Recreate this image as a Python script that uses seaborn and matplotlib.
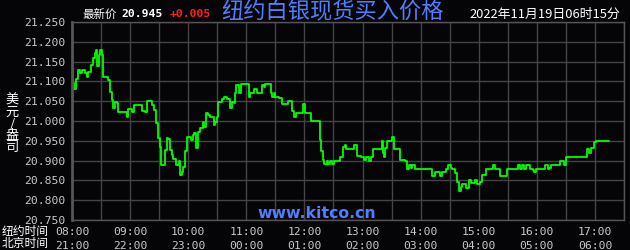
import matplotlib
matplotlib.use("Agg")
import matplotlib.pyplot as plt
import seaborn as sns
import pandas as pd

# minutes after 08:00 New York time
minutes = [0, 1.3, 2.4, 4.1, 6.2, 8.3, 10.3, 13.4, 15.2, 16.9,
           19.3, 21.4, 23.8, 24.8, 26.2, 27.6, 29.0, 30.7, 31.8, 32.4,
           36.5, 37.6, 39.3, 41.1, 42.7, 44.5, 46.2, 47.9, 54.8, 56.6,
           58.2, 61.8, 64.1, 70.3, 72.1, 75.5, 77.9, 82.4, 84.8, 86.9,
           89.3, 91.0, 92.1, 94.4, 96.2, 98.0, 99.6, 101.4, 103.1, 104.8,
           107.6, 110.0, 111.7, 113.5, 115.1, 116.9, 118.7, 121.3, 122.8, 124.9,
           126.2, 128.3, 130.3, 132.4, 135.2, 136.6, 138.3, 140.0, 142.8, 146.2,
           147.9, 149.7, 150.7, 154.9, 157.2, 160.0, 162.7, 164.8, 166.9, 168.6,
           169.7, 172.0, 174.5, 180.0, 182.4, 184.1, 188.3, 191.1, 196.3, 197.9,
           199.7, 204.1, 205.6, 206.9, 208.2, 210.0, 213.4, 216.9, 220.6, 222.7,
           226.2, 227.3, 228.9, 231.7, 236.6, 238.2, 240.3, 244.4, 246.9, 254.8,
           255.8, 256.6, 257.6, 259.3, 260.7, 262.8, 264.5, 266.2, 268.7, 270.3,
           274.4, 277.2, 280.0, 281.4, 283.4, 290.4, 291.7, 293.8, 298.7, 301.3,
           304.1, 306.5, 309.0, 311.1, 317.9, 319.7, 321.4, 322.0, 323.1, 324.8,
           329.0, 330.7, 332.4, 336.5, 338.6, 343.4, 345.5, 347.9, 349.7, 351.4,
           353.8, 370.3, 372.1, 374.5, 377.9, 380.0, 382.4, 385.9, 388.3, 391.0,
           392.8, 395.2, 397.2, 399.6, 401.4, 403.1, 405.5, 406.6, 410.0, 412.5,
           414.1, 416.2, 418.7, 421.4, 423.8, 427.2, 432.4, 434.8, 436.6, 440.0,
           442.1, 446.2, 449.7, 458.3, 460.7, 462.8, 464.5, 466.3, 468.6, 471.0,
           473.1, 475.6, 477.2, 479.0, 485.9, 488.3, 491.1, 492.8, 494.5, 501.4,
           504.1, 506.6, 508.2, 510.0, 529.7, 531.7, 533.5, 535.9, 539.3, 541.0, 554.8]

prices = [21.131, 21.095, 21.080, 21.105, 21.129, 21.120, 21.129, 21.120, 21.110, 21.125,
          21.141, 21.158, 21.171, 21.179, 21.139, 21.167, 21.179, 21.167, 21.125, 21.112,
          21.112, 21.104, 21.074, 21.053, 21.032, 21.049, 21.045, 21.022, 21.022, 21.011,
          21.030, 21.022, 21.040, 21.040, 21.024, 21.022, 21.051, 21.040, 21.028, 20.994,
          20.956, 20.935, 20.889, 20.889, 20.927, 20.958, 20.954, 20.927, 20.914, 20.903,
          20.889, 20.900, 20.864, 20.872, 20.885, 20.923, 20.960, 20.960, 20.952, 20.965,
          20.969, 20.931, 20.973, 20.982, 20.998, 20.984, 21.021, 21.015, 21.009, 20.990,
          20.998, 21.011, 21.049, 21.055, 21.061, 21.055, 21.032, 21.049, 21.046, 21.070,
          21.091, 21.070, 21.093, 21.093, 21.061, 21.070, 21.081, 21.071, 21.091, 21.085,
          21.093, 21.093, 21.070, 21.060, 21.071, 21.061, 21.057, 21.042, 21.042, 21.051,
          21.051, 21.024, 21.011, 21.021, 21.021, 21.042, 21.021, 21.019, 21.001, 21.001,
          20.982, 20.952, 20.923, 20.902, 20.891, 20.900, 20.891, 20.900, 20.891, 20.900,
          20.900, 20.910, 20.935, 20.939, 20.929, 20.929, 20.939, 20.912, 20.910, 20.902,
          20.908, 20.900, 20.908, 20.929, 20.929, 20.950, 20.920, 20.908, 20.931, 20.950,
          20.950, 20.960, 20.929, 20.929, 20.902, 20.900, 20.878, 20.889, 20.881, 20.889,
          20.880, 20.880, 20.861, 20.872, 20.872, 20.861, 20.872, 20.878, 20.889, 20.881,
          20.878, 20.868, 20.847, 20.822, 20.834, 20.841, 20.841, 20.832, 20.851, 20.843,
          20.843, 20.851, 20.841, 20.847, 20.864, 20.878, 20.878, 20.889, 20.878, 20.878,
          20.861, 20.861, 20.878, 20.878, 20.889, 20.878, 20.889, 20.878, 20.889, 20.889,
          20.878, 20.876, 20.870, 20.878, 20.878, 20.889, 20.878, 20.881, 20.889, 20.889,
          20.899, 20.899, 20.889, 20.908, 20.908, 20.929, 20.920, 20.931, 20.948, 20.950, 20.950]

ny_labels = ["08:00", "09:00", "10:00", "11:00", "12:00", "13:00", "14:00", "15:00", "16:00", "17:00"]
bj_labels = ["21:00", "22:00", "23:00", "00:00", "01:00", "02:00", "03:00", "04:00", "05:00", "06:00"]
y_ticks = [20.75, 20.80, 20.85, 20.90, 20.95, 21.00, 21.05, 21.10, 21.15, 21.20, 21.25]

title = "纽约白银现货买入价格"
last_price = "20.945"
change = "+0.005"
date_text = "2022年11月19日06时15分"

BG = "#050508"
GRID = "#444444"
TICK = "#c8c8c8"

sns.set_theme(style="dark", rc={"axes.facecolor": BG, "figure.facecolor": BG})
plt.rcParams["font.family"] = ["Noto Sans CJK SC", "DejaVu Sans"]

fig = plt.figure(figsize=(6.3, 2.5), dpi=100)
ax = fig.add_axes([72 / 630, 1 - 220 / 250, (624 - 72) / 630, (220 - 22) / 250])
ax.set_facecolor(BG)

df = pd.DataFrame({"t": minutes, "p": prices})
sns.lineplot(data=df, x="t", y="p", ax=ax, color="#00ff00", linewidth=1.3,
             drawstyle="steps-post")

ax.set_xlim(0, 570)
ax.set_ylim(20.75, 21.25)
xt = list(range(0, 571, 30))
ax.set_xticks(xt)
labels = []
for v in xt:
    if v % 60 == 0 and v // 60 < len(ny_labels):
        i = v // 60
        labels.append(f"{ny_labels[i]}\n{bj_labels[i]}")
    else:
        labels.append("")
ax.set_xticklabels(labels)
ax.set_yticks(y_ticks)
ax.set_yticklabels([f"{v:.3f}" for v in y_ticks])
for lab in ax.get_xticklabels() + ax.get_yticklabels():
    lab.set_fontfamily("DejaVu Sans Mono")
    lab.set_fontsize(8.2)
    lab.set_color(TICK)
for lab in ax.get_xticklabels():
    lab.set_linespacing(1.5)
ax.tick_params(axis="x", length=0, pad=5)
ax.tick_params(axis="y", length=0, pad=5)
ax.grid(True, color=GRID, linewidth=1)
for s in ax.spines.values():
    s.set_visible(True)
    s.set_color("#555555")
    s.set_linewidth(1)
ax.spines["left"].set_linewidth(2)
ax.set_xlabel("")
ax.set_ylabel("")

fig.text(333 / 630, 1 - 12 / 250, title, color="#4f7fff", fontsize=16,
         ha="center", va="center")
fig.text(82 / 630, 1 - 14 / 250, "最新价", color="white", fontsize=8.3, ha="left", va="center")
fig.text(121 / 630, 1 - 14 / 250, last_price, color="white", fontsize=8.2, ha="left", va="center",
         family="DejaVu Sans Mono", fontweight="bold")
fig.text(170 / 630, 1 - 14 / 250, change, color="#ff2020", fontsize=8.2, ha="left", va="center",
         family="DejaVu Sans Mono", fontweight="bold")
fig.text(620 / 630, 1 - 14 / 250, date_text, color="white", fontsize=9.3, ha="right", va="center")
fig.text(12 / 630, 1 - 124 / 250, "美\n元\n/\n盎\n司", color="white", fontsize=9.5,
         ha="center", va="center", linespacing=0.88)
fig.text(2 / 630, 1 - 231 / 250, "纽约时间", color="white", fontsize=8.5, ha="left", va="center")
fig.text(2 / 630, 1 - 244 / 250, "北京时间", color="white", fontsize=8.5, ha="left", va="center")
fig.text(317 / 630, 1 - 213 / 250, "www.kitco.cn", color="#4f7fff", fontsize=11.3,
         ha="center", va="center", fontweight="bold", family="DejaVu Sans")

fig.savefig("out.png", dpi=100, facecolor=BG)
